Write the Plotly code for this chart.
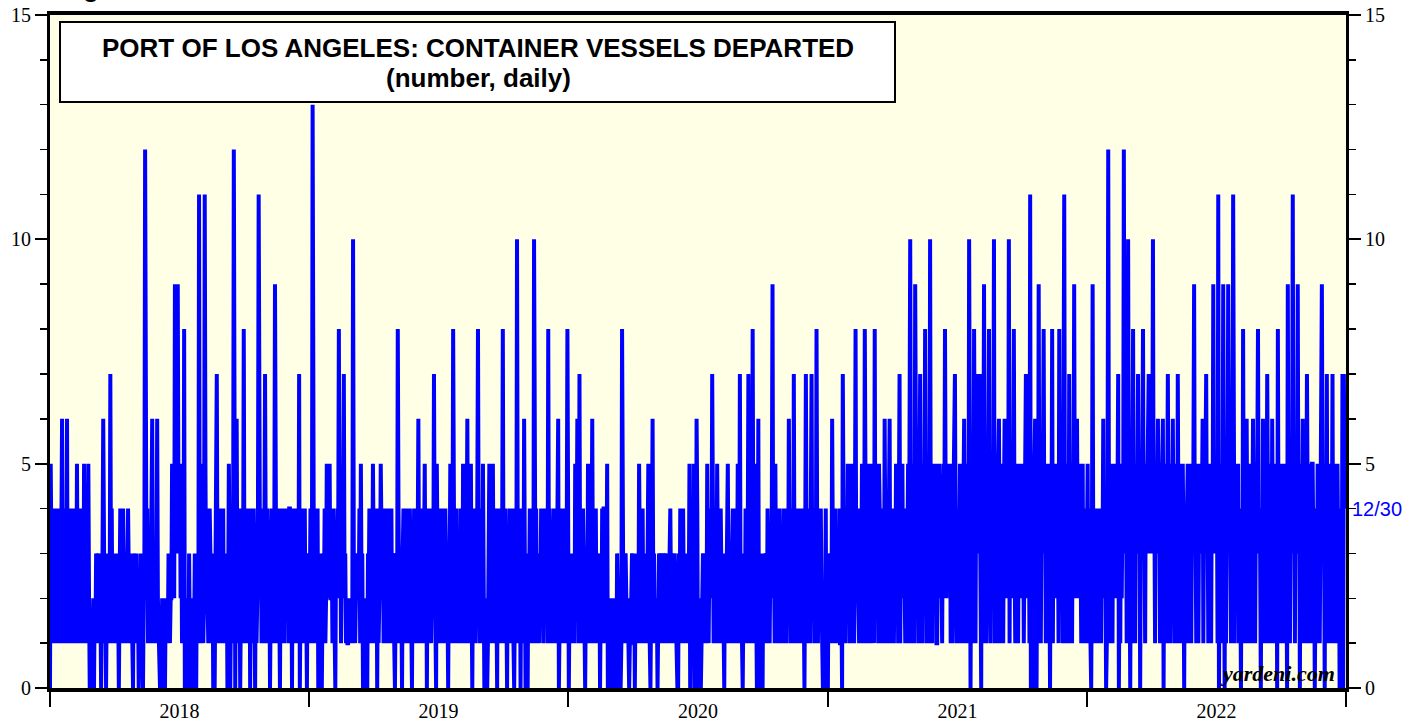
import pandas as pd
import plotly.graph_objects as go

# Daily number of container vessels departed, one string per month
# (each character is a day's count in hex: 0-9, a=10, b=11, c=12, d=13)
y2018 = [
    "0532413241 3142314621 3142613241 3",
    "2413141524 1324131512 21352010",
    "0120213212 3120136213 0231217241 2",
    "1213212024 2134312321 4213121032",
    "2131202132 1023c32412 3124621321 2",
    "6210010200 1021213212 2534294359",
    "4352413180 1020031201 021320321b 2",
    "315212b523 2124312302 0237231421 3",
    "2413213025 302413c203 6241302412",
    "8241324140 3142420312 4b32412413 7",
    "3142130241 2139413241 0314241424",
    "2414423041 3241321702 3142341203 2",
]
y2019 = [
    "32412d4123 2140203102 3241253245 2",
    "2314210324 3824132472 31211211",
    "212a321232 3241523020 1020324213 2",
    "5213240312 2532413241 3214324132",
    "2023184231 2034213243 1243203142 3",
    "2136241324 1352403124 2134273105",
    "3142314231 2431203251 3284132413 2",
    "2143153241 3624135203 2413248312 4",
    "2150010201 3524135241 3204132413",
    "8231420312 4132410231 a312403241 6",
    "2031032413 241a324132 1324231423",
    "2318241321 3421324602 3142312413 8",
]
y2020 = [
    "3021321321 5236217231 2431023152 3",
    "2136213241 3213021424 414250102",
    "1201020103 2012018213 2311210112 3",
    "2130213215 2132412312 1352102362",
    "3121201323 1323132313 2134213213 2",
    "1000314231 4231321325 0213150106",
    "4010201132 1231521324 2731241253 1",
    "3142132031 2352132134 1324125317 2",
    "3102314213 7231428312 5201602013",
    "0321231423 1324923152 3213412312 4",
    "2314326314 2317243124 3142314203",
    "7314231472 3413283142 3421020140 0",
]
y2021 = [
    "0312316312 4131324112 0731413253 5",
    "1253141382 4311432513 18314235",
    "1351431823 4315413143 1634132561 4",
    "3141325341 3714352431 413514a315",
    "3419425314 7341534831 4351a34153 4",
    "3511435243 1453842534 3514134573",
    "1431352413 46315341a3 0415384153 7",
    "3734071493 5143583145 34a1534156 3",
    "4153146352 43a1534258 3145314352",
    "4351357243 51b0341056 3041935143 5",
    "8351435130 4381534253 418352415b",
    "3514317435 1439352634 2531451314 1",
]
y2022 = [
    "3514310392 4314131243 1436243014 c",
    "4153415342 5347031524 3c43514a",
    "4304158341 5347350435 8341534573 4",
    "354a341534 6351435604 3514735143",
    "4631534173 4153453041 3451435143 5",
    "9341351435 3461435734 1534153943",
    "4351b03514 3940514395 34153b4153 4",
    "3514304183 4516341534 1463514358 3",
    "4304163514 3741534163 5143508341",
    "3541534130 9341534b34 1534935041 5",
    "6341537415 3415534034 1534135943",
    "4053714351 4371435145 3403417074",
]
years = [2018, 2019, 2020, 2021, 2022]
year_data = [y2018, y2019, y2020, y2021, y2022]
last_label = "12/30"
last_value = 4

dates, values = [], []
for yr, months in zip(years, year_data):
    for m, s in enumerate(months, start=1):
        s = s.replace(" ", "")
        start = pd.Timestamp(yr, m, 1)
        for i, ch in enumerate(s):
            dates.append(start + pd.Timedelta(days=i))
            values.append(int(ch, 16))

fig = go.Figure()
fig.add_trace(go.Scatter(x=dates, y=values, mode="lines",
                         line=dict(color="#0000FF", width=4),
                         hoverinfo="skip", showlegend=False))
fig.add_trace(go.Scatter(x=[dates[0]], y=[None], yaxis="y2",
                         hoverinfo="skip", showlegend=False))

serif = "Liberation Serif, Times New Roman, serif"
sans = "Liberation Sans, Arial, sans-serif"
tickfont = dict(family=serif, size=20, color="black")

yax = dict(range=[0, 15], dtick=5, tick0=0, ticks="outside", ticklen=12,
           tickwidth=2, tickcolor="black",
           minor=dict(dtick=1, tick0=0, ticks="outside", ticklen=7,
                      tickwidth=1.5, tickcolor="black"),
           showline=True, linewidth=3, linecolor="black",
           showgrid=False, zeroline=False, tickfont=tickfont,
           automargin=False, fixedrange=True)

fig.update_layout(
    width=1423, height=721,
    margin=dict(l=50, r=77, t=15, b=33, pad=0, autoexpand=False),
    paper_bgcolor="white", plot_bgcolor="#FFFFE6",
    showlegend=False,
    xaxis=dict(type="date", range=["2018-01-01", "2023-01-01"],
               dtick="M12", tick0="2018-01-01", ticklabelmode="period",
               tickformat="%Y", ticks="outside", ticklen=15, tickwidth=2,
               tickcolor="black", showline=True, linewidth=4,
               linecolor="black", mirror=True, showgrid=False,
               zeroline=False, tickfont=tickfont, automargin=False,
               ticklabelstandoff=-13, fixedrange=True),
    yaxis=yax,
    yaxis2=dict(yax, overlaying="y", side="right"),
)

# title box
fig.add_shape(type="rect", xref="paper", yref="paper",
              x0=(60 - 50) / 1296, x1=(895 - 50) / 1296,
              y0=(688 - 102) / 673, y1=(688 - 22) / 673,
              line=dict(color="black", width=2), fillcolor="white",
              layer="above")
fig.add_annotation(xref="paper", yref="paper", x=(478 - 50) / 1296,
                   y=(688 - 48) / 673, xanchor="center", yanchor="middle",
                   text="<b>PORT OF LOS ANGELES: CONTAINER VESSELS DEPARTED</b>",
                   showarrow=False, font=dict(family=sans, size=26, color="black"))
fig.add_annotation(xref="paper", yref="paper", x=(478 - 50) / 1296,
                   y=(688 - 78) / 673, xanchor="center", yanchor="middle",
                   text="<b>(number, daily)</b>",
                   showarrow=False, font=dict(family=sans, size=26, color="black"))

# last-date label on right axis
fig.add_annotation(xref="paper", yref="y", x=1.0, y=last_value, xanchor="left",
                   xshift=4, yanchor="middle", text=last_label, showarrow=False,
                   font=dict(family=sans, size=20, color="#0000FF"))

# watermark
fig.add_annotation(xref="paper", yref="paper", x=(1337 - 50) / 1296,
                   y=(688 - 673) / 673, xanchor="right", yanchor="middle",
                   text="<b><i>yardeni.com</i></b>", showarrow=False,
                   font=dict(family=serif, size=22, color="black"))

# figure caption, cut off at the top edge as in the original
fig.add_annotation(xref="paper", yref="paper", x=(58 - 50) / 1296,
                   y=1 + (15 - 4.5) / 673, xanchor="left", yanchor="bottom",
                   text="<b>Figure 1.</b>", showarrow=False,
                   font=dict(family=sans, size=26, color="black"))

fig.write_html(
    "out.html",
    config={"displayModeBar": False, "staticPlot": True},
    post_script="document.body.style.margin='0';"
                "document.body.style.overflow='hidden';",
)
